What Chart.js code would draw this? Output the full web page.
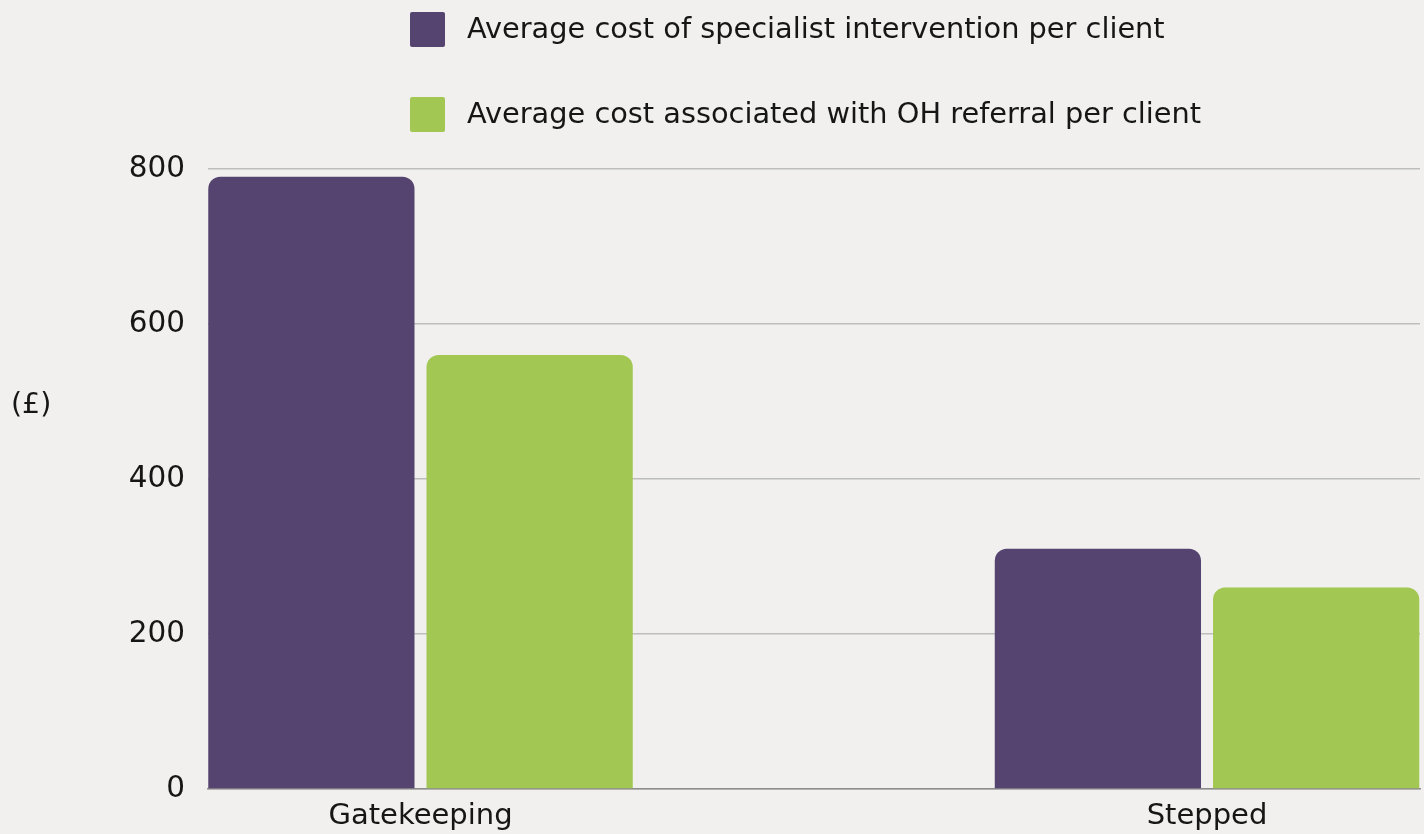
<!DOCTYPE html>
<html>
<head>
<meta charset="utf-8">
<title>Average cost per client</title>
<script src="https://cdn.jsdelivr.net/npm/chart.js@4.4.1/dist/chart.umd.min.js"></script>
<style>
  html, body { margin: 0; padding: 0; background: #f1f0ee; }
  #wrap { position: relative; width: 1424px; height: 834px; font-family: "DejaVu Sans", sans-serif; color: #161616; }
  #cost-chart { position: absolute; left: 0; top: 0; }
  #legend { position: absolute; left: 410px; top: 12px; }
  .legend-item { display: flex; align-items: center; height: 35px; margin-bottom: 50px; font-size: 28.8px; white-space: nowrap; }
  .legend-item span:last-child { position: relative; top: -2px; }
  .legend-box { width: 35px; height: 35px; border-radius: 2px; margin-right: 22px; flex: none; }
  #y-title { position: absolute; left: 11px; top: 387px; font-size: 28.5px; }
</style>
</head>
<body>
<div id="wrap">
  <canvas id="cost-chart" width="1424" height="834"></canvas>
  <div id="legend"></div>
  <div id="y-title">(£)</div>
</div>
<script>
// Category labels and average cost per client (£)
const categories = ['Gatekeeping', 'Stepped']
const specialistCost = [790, 310]
const ohReferralCost = [560, 260]
const yTicks = [0, 200, 400, 600, 800]

const seriesNames = [
  'Average cost of specialist intervention per client',
  'Average cost associated with OH referral per client'
]
const seriesColors = ['#564470', '#a2c853']

const textColor = '#161616'
const fontFamily = '"DejaVu Sans", sans-serif'

// Points sit on a linear x axis so each group can be placed off-centre
function toPoints(values) {
  return values.map((v, i) => ({ x: i, y: v }))
}

const chart = new Chart(document.getElementById('cost-chart'), {
  type: 'bar',
  data: {
    datasets: [
      {
        label: seriesNames[0],
        data: toPoints(specialistCost),
        backgroundColor: seriesColors[0]
      },
      {
        label: seriesNames[1],
        data: toPoints(ohReferralCost),
        backgroundColor: seriesColors[1]
      }
    ]
  },
  options: {
    responsive: false,
    animation: false,
    layout: {
      padding: { top: 169, right: 4, bottom: 0, left: 0 }
    },
    datasets: {
      bar: {
        categoryPercentage: 0.555,
        barPercentage: 0.945,
        borderRadius: 12,
        borderSkipped: 'start'
      }
    },
    plugins: {
      legend: { display: false },
      tooltip: { enabled: false }
    },
    scales: {
      x: {
        type: 'linear',
        offset: false,
        min: -0.2702,
        max: 1.2708,
        grid: { display: false, drawTicks: false, offset: false },
        border: { display: true, color: '#8c8c8c', width: 1.5 },
        afterBuildTicks: (scale) => {
          scale.ticks = categories.map((c, i) => ({ value: i }))
        },
        afterFit: (scale) => {
          scale.height = 45
        },
        ticks: {
          padding: 10,
          color: textColor,
          font: { family: fontFamily, size: 29 },
          callback: (value) => categories[value] ?? ''
        }
      },
      y: {
        min: 0,
        max: 800,
        grid: { color: '#bdbdbd', lineWidth: 1.5, drawTicks: false },
        border: { display: false },
        afterBuildTicks: (scale) => {
          scale.ticks = yTicks.map((v) => ({ value: v }))
        },
        afterFit: (scale) => {
          scale.width = 208
        },
        ticks: {
          padding: 23,
          color: textColor,
          font: { family: fontFamily, size: 29.5 }
        }
      }
    }
  }
})

// Legend, one entry per row
const legend = document.getElementById('legend')
chart.data.datasets.forEach((ds) => {
  const item = document.createElement('div')
  item.className = 'legend-item'
  const box = document.createElement('span')
  box.className = 'legend-box'
  box.style.background = ds.backgroundColor
  const label = document.createElement('span')
  label.textContent = ds.label
  item.appendChild(box)
  item.appendChild(label)
  legend.appendChild(item)
})
</script>
</body>
</html>
